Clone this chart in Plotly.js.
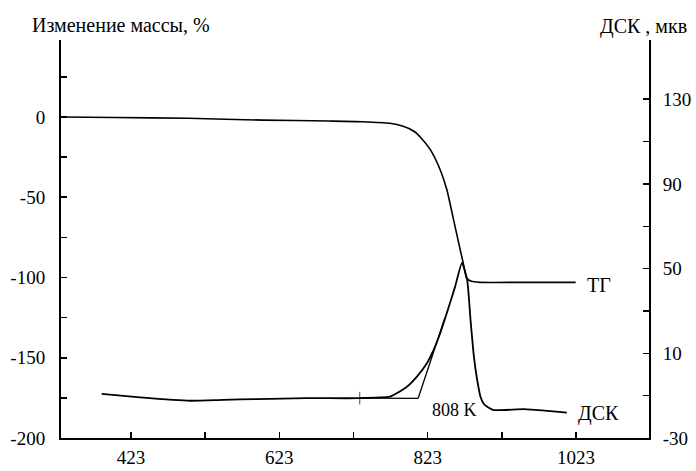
<!DOCTYPE html>
<html>
<head>
<meta charset="utf-8">
<script src="https://cdn.plot.ly/plotly-3.0.1.min.js"></script>
<style>html,body{margin:0;padding:0;background:#fff;}#chart{width:696px;height:471px;}</style>
</head>
<body>
<div id="chart"></div>
<script>
// Temperature, K
var tgT = [329.5, 400, 500, 600, 690, 735, 772, 790, 805, 815, 827, 840, 849, 858, 867, 871, 875.6, 882, 893.6, 950, 1022.6];
// Mass change, %
var tgMass = [0, -0.3, -0.8, -1.9, -2.5, -2.9, -3.9, -5.8, -9, -13.5, -20.6, -33, -45.5, -64.2, -82.9, -91, -100.3, -102.4, -103, -103, -103];

var dscT = [383.4, 435, 502.6, 547, 593, 660, 731, 772, 777, 795, 808.5, 822, 831, 840, 850, 860, 869.3, 876.3, 881, 885.5, 889.8, 894.2, 898.5, 903.3, 912, 952.7, 985, 1010.6];
// DSC signal, мкв
var dscSignal = [-9.2, -10.8, -12.4, -12.0, -11.6, -11.2, -11.2, -10.5, -9.7, -5.8, -1.0, 5.3, 11.6, 19.6, 30.3, 41.5, 52.7, 44.6, 25, 8, -2.6, -10.5, -13.8, -15.2, -16.8, -16.4, -17.2, -18.0];

// Onset construction: baseline and tangent
var baseT = [731.4, 810.2];
var baseSignal = [-11.2, -11.25];
var tangentT = [810.2, 846.2];
var tangentSignal = [-11.25, 26.7];

var xTickVals = [423, 523, 623, 723, 823, 923, 1023];
var xTickText = ['423', '', '623', '', '823', '', '1023'];
var yTickVals = [-200, -175, -150, -125, -100, -75, -50, -25, 0, 25];
var yTickText = ['-200', '', '-150', '', '-100', '', '-50', '', '0', ''];
var y2TickVals = [-30, -10, 10, 30, 50, 70, 90, 110, 130];
var y2TickText = ['-30', '', '10', '', '50', '', '90', '', '130'];

var leftTitle = 'Изменение массы, %';
var rightTitle = 'ДСК , мкв';
var tgLabel = 'ТГ';
var dscLabel = 'ДСК';
var onsetLabel = '808 K';

var FONT = 'Liberation Serif, Times New Roman, serif';
var FS = 20;
var TFS = 19;

var traces = [
  {x: tgT, y: tgMass, type: 'scatter', mode: 'lines', yaxis: 'y',
   line: {color: '#000', width: 1.6, shape: 'spline', smoothing: 0.5}, hoverinfo: 'skip'},
  {x: dscT, y: dscSignal, type: 'scatter', mode: 'lines', yaxis: 'y2',
   line: {color: '#000', width: 1.8, shape: 'spline', smoothing: 0.5}, hoverinfo: 'skip'},
  {x: baseT, y: baseSignal, type: 'scatter', mode: 'lines+markers', yaxis: 'y2',
   line: {color: '#000', width: 1.3},
   marker: {symbol: ['line-ns', 'circle'], size: [9, 0], color: '#000', line: {color: '#000', width: 1}},
   hoverinfo: 'skip'},
  {x: tangentT, y: tangentSignal, type: 'scatter', mode: 'lines', yaxis: 'y2',
   line: {color: '#000', width: 1.3}, hoverinfo: 'skip'}
];

var axisCommon = {
  showgrid: false, zeroline: false, showline: true, linecolor: '#000', linewidth: 2,
  ticks: 'inside', ticklen: 6, tickwidth: 1.6, tickcolor: '#000',
  tickfont: {family: FONT, size: TFS, color: '#000'}, fixedrange: true
};

var layout = {
  width: 696, height: 471,
  margin: {l: 61, r: 47, t: 40, b: 33},
  paper_bgcolor: '#fff', plot_bgcolor: '#fff',
  showlegend: false,
  font: {family: FONT, size: FS, color: '#000'},
  xaxis: Object.assign({}, axisCommon, {
    range: [328.5, 1121.5], tickmode: 'array', tickvals: xTickVals, ticktext: xTickText,
    ticklabelstandoff: 1
  }),
  yaxis: Object.assign({}, axisCommon, {
    range: [-200, 48], tickmode: 'array', tickvals: yTickVals, ticktext: yTickText,
    ticklabelstandoff: 10
  }),
  yaxis2: Object.assign({}, axisCommon, {
    range: [-30, 158], tickmode: 'array', tickvals: y2TickVals, ticktext: y2TickText,
    overlaying: 'y', side: 'right', ticklabelstandoff: 8
  }),
  annotations: [
    {text: leftTitle, xref: 'paper', yref: 'paper', x: -0.053, y: 1.038,
     xanchor: 'left', yanchor: 'middle', showarrow: false, font: {family: FONT, size: FS, color: '#000'}},
    {text: rightTitle, xref: 'paper', yref: 'paper', x: 0.913, y: 1.035,
     xanchor: 'left', yanchor: 'middle', showarrow: false, font: {family: FONT, size: FS, color: '#000'}},
    {text: tgLabel, xref: 'x', yref: 'y', x: 1035, y: -104.5,
     xanchor: 'left', yanchor: 'middle', showarrow: false, font: {family: FONT, size: FS, color: '#000'}},
    {text: dscLabel, xref: 'x', yref: 'y2', x: 1023, y: -18.2,
     xanchor: 'left', yanchor: 'middle', showarrow: false, font: {family: FONT, size: FS, color: '#000'}},
    {text: onsetLabel, xref: 'x', yref: 'y2', x: 826, y: -16.8,
     xanchor: 'left', yanchor: 'middle', showarrow: false, font: {family: FONT, size: 18, color: '#000'}}
  ]
};

Plotly.newPlot('chart', traces, layout, {displayModeBar: false, staticPlot: true});
</script>
</body>
</html>
